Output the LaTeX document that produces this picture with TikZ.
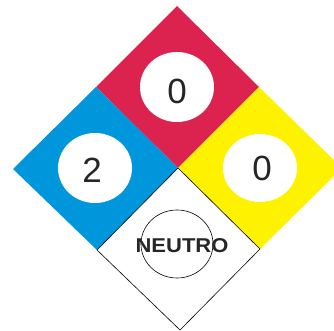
\documentclass[tikz,border=0pt]{standalone}
\usepackage{fontspec}
\setmainfont{Liberation Sans}
\definecolor{nfred}{HTML}{DC2350}
\definecolor{nfblue}{HTML}{0096DC}
\definecolor{nfyellow}{HTML}{FFF200}
\begin{document}
\begin{tikzpicture}[x=1pt,y=-1pt,
  oval/.style={fill=white,draw=none},
  digit/.style={font=\fontsize{35}{35}\selectfont,text=black!85}]
\useasboundingbox (0,0) rectangle (334,331);
\clip (0,0) rectangle (334,331);
% quadrants
\fill[nfred] (177,6) -- (259,87) -- (178,168) -- (96,87) -- cycle;
\fill[nfblue] (96,87) -- (178,168) -- (97,250) -- (13,169) -- cycle;
\fill[nfyellow] (259,87) -- (342,168) -- (260,249) -- (178,168) -- cycle;
\draw[black,line width=0.6pt,fill=white] (178,168) -- (260,249) -- (180,330) -- (97,250) -- cycle;
% ovals
\fill[oval] (177,87) ellipse [x radius=37,y radius=35];
\fill[oval] (95,168) ellipse [x radius=37,y radius=35];
\fill[oval] (260,168) ellipse [x radius=37,y radius=34];
\draw[black,line width=0.6pt] (177,244) ellipse [x radius=36,y radius=34];
% texts
\node[digit] (f) at (177,91) {0};
\node[digit] (h) at (92,170) {2};
\node[digit] (r) at (262,168) {0};
\node[font=\fontsize{20}{20}\bfseries\selectfont,xscale=1.1,text=black!85] (s) at (182,246) {NEUTRO};
\end{tikzpicture}
\end{document}
